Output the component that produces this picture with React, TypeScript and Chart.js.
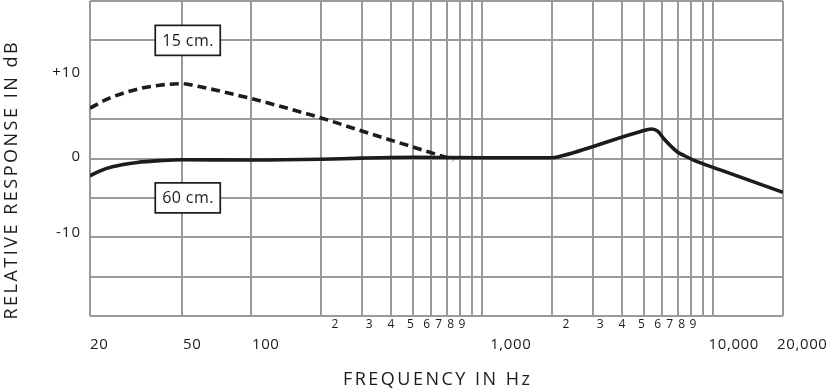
import React, { useEffect, useRef } from 'react';
import { Chart, registerables } from 'chart.js';

Chart.register(...registerables);

// ---- data ----
const freq15cm = [20, 24, 32, 40, 50, 60, 100, 200, 300, 750];
const db15cm = [6.4, 7.6, 8.8, 9.3, 9.5, 9.1, 7.6, 5.15, 3.5, -0.15];

const freq60cm = [20, 22, 25, 32, 41, 50, 100, 200, 300, 500, 1000, 2000, 2150, 4800, 5400, 5750, 6100, 7000, 7500, 8200, 10700, 20000];
const db60cm = [-2.2, -1.6, -1.05, -0.5, -0.25, -0.15, -0.2, -0.1, 0.05, 0.15, 0.1, 0.1, 0.25, 3.4, 3.75, 3.45, 2.5, 0.8, 0.35, -0.2, -1.45, -4.3];

const xGridValues = [20, 50, 100, 200, 300, 400, 500, 600, 700, 800, 900, 1000, 2000, 3000, 4000, 5000, 6000, 7000, 8000, 9000, 10000, 20000];
const xMajorValues = [20, 50, 100, 1000, 10000, 20000];
const xMajorLabels = ['20', '50', '100', '1,000', '10,000', '20,000'];
const xMinorValues = [200, 300, 400, 500, 600, 700, 800, 900, 2000, 3000, 4000, 5000, 6000, 7000, 8000, 9000];
const xMinorLabels = ['2', '3', '4', '5', '6', '7', '8', '9', '2', '3', '4', '5', '6', '7', '8', '9'];

const yLabelValues = [10, 0, -10];
const yLabels = ['+10', '0', '-10'];
const yHiddenGrid = [10];

const seriesNames = ['15 cm.', '60 cm.'];
const boxFreqs = [53, 53];
const boxDbs = [15, -5];

const xTitle = 'FREQUENCY IN Hz';
const yTitle = 'RELATIVE RESPONSE IN dB';

// ---- styles (pixel nudges, not data) ----
const majorLabelOffsets = [9, 10, 14, 28, 20, 19];
const minorLabelOffsetsPerDecade = [14, 7.5, 0.5, -2.5, -4.5, -8, -9.5, -10];
const yLabelOffsets = [-7, -1.5, -4.5];
const FONT = '"Open Sans", "Noto Sans", sans-serif';
const TEXT = '#1f1b1c';
const GRID = '#9a9a9a';
const LINE = '#1c1c1c';

function setSpacing(ctx: any, px: number) {
  if ('letterSpacing' in ctx) ctx.letterSpacing = `${px}px`;
}

function drawText(ctx: any, text: string, x: number, y: number, spacing: number) {
  setSpacing(ctx, spacing);
  let dx = 0;
  if (ctx.textAlign === 'center') dx = spacing / 2;
  else if (ctx.textAlign === 'right') dx = spacing;
  ctx.fillText(text, x + dx, y);
  setSpacing(ctx, 0);
}

const textPlugin = {
  id: 'textPlugin',
  afterDraw(chart: any) {
    const { ctx, chartArea, scales } = chart;
    const xs = scales.x;
    const ys = scales.y;
    ctx.save();
    ctx.fillStyle = TEXT;
    ctx.textBaseline = 'middle';

    // annotation boxes
    ctx.font = `16px ${FONT}`;
    seriesNames.forEach((name, i) => {
      const cx = xs.getPixelForValue(boxFreqs[i]);
      const cy = ys.getPixelForValue(boxDbs[i]);
      const w = 65, h = 30;
      ctx.fillStyle = '#ffffff';
      ctx.fillRect(cx - w / 2, cy - h / 2, w, h);
      ctx.strokeStyle = '#1a1a1a';
      ctx.lineWidth = 1.7;
      ctx.strokeRect(cx - w / 2, cy - h / 2, w, h);
      ctx.fillStyle = TEXT;
      ctx.textAlign = 'center';
      drawText(ctx, name, cx, cy + 1, 0.4);
    });

    // x major labels
    ctx.font = `15px ${FONT}`;
    ctx.textAlign = 'center';
    xMajorValues.forEach((v, i) => {
      drawText(ctx, xMajorLabels[i], xs.getPixelForValue(v) + majorLabelOffsets[i], 345, 0.6);
    });

    // x minor labels
    ctx.font = `12px ${FONT}`;
    xMinorValues.forEach((v, i) => {
      drawText(ctx, xMinorLabels[i], xs.getPixelForValue(v) + minorLabelOffsetsPerDecade[i % 8], 325, 0);
    });

    // y labels
    ctx.font = `15px ${FONT}`;
    ctx.textAlign = 'right';
    yLabelValues.forEach((v, i) => {
      drawText(ctx, yLabels[i], 80, ys.getPixelForValue(v) + yLabelOffsets[i], 1);
    });

    // titles
    ctx.font = `18px ${FONT}`;
    ctx.textAlign = 'center';
    drawText(ctx, xTitle, (chartArea.left + chartArea.right) / 2, 380, 2.5);
    ctx.save();
    ctx.translate(12, 181);
    ctx.rotate(-Math.PI / 2);
    drawText(ctx, yTitle, 0, 0, 2.5);
    ctx.restore();

    ctx.restore();
  },
};

export default function App() {
  const canvasRef = useRef<HTMLCanvasElement | null>(null);

  useEffect(() => {
    let chart: Chart | null = null;
    let cancelled = false;
    const make = () => {
      if (cancelled || !canvasRef.current) return;
      chart = new Chart(canvasRef.current, {
        type: 'line',
        data: {
          datasets: [
            {
              label: seriesNames[0],
              data: freq15cm.map((f, i) => ({ x: f, y: db15cm[i] })),
              borderColor: LINE,
              borderWidth: 3.6,
              borderDash: [9, 5],
              pointRadius: 0,
              cubicInterpolationMode: 'monotone',
              fill: false,
            },
            {
              label: seriesNames[1],
              data: freq60cm.map((f, i) => ({ x: f, y: db60cm[i] })),
              borderColor: LINE,
              borderWidth: 3.6,
              pointRadius: 0,
              cubicInterpolationMode: 'monotone',
              fill: false,
            },
          ],
        },
        options: {
          animation: false,
          responsive: false,
          maintainAspectRatio: false,
          devicePixelRatio: 1,
          layout: { padding: { left: 90, right: 44, top: 1, bottom: 73 } },
          plugins: { legend: { display: false }, tooltip: { enabled: false } },
          scales: {
            x: {
              type: 'logarithmic',
              min: 20,
              max: 20000,
              afterBuildTicks: (s: any) => {
                s.ticks = xGridValues.map((v) => ({ value: v }));
              },
              ticks: { display: false },
              grid: { color: GRID, lineWidth: 2, drawTicks: false },
              border: { display: false },
            },
            y: {
              type: 'linear',
              min: -20,
              max: 20,
              ticks: { display: false, stepSize: 5 },
              grid: {
                color: (c: any) => (yHiddenGrid.includes(c.tick?.value) ? 'rgba(0,0,0,0)' : GRID),
                lineWidth: 2,
                drawTicks: false,
              },
              border: { display: false },
            },
          },
        } as any,
        plugins: [textPlugin],
      });
    };
    const fontsReady = (document as any).fonts?.load
      ? Promise.all([
          (document as any).fonts.load(`15px "Open Sans"`),
          (document as any).fonts.load(`18px "Open Sans"`),
        ]).catch(() => null)
      : Promise.resolve(null);
    fontsReady.then(make);
    return () => {
      cancelled = true;
      if (chart) chart.destroy();
    };
  }, []);

  return (
    <div style={{ position: 'fixed', left: 0, top: 0, width: 827, height: 389, background: '#fff' }}>
      <canvas ref={canvasRef} width={827} height={389} style={{ width: 827, height: 389, display: 'block' }} />
    </div>
  );
}
